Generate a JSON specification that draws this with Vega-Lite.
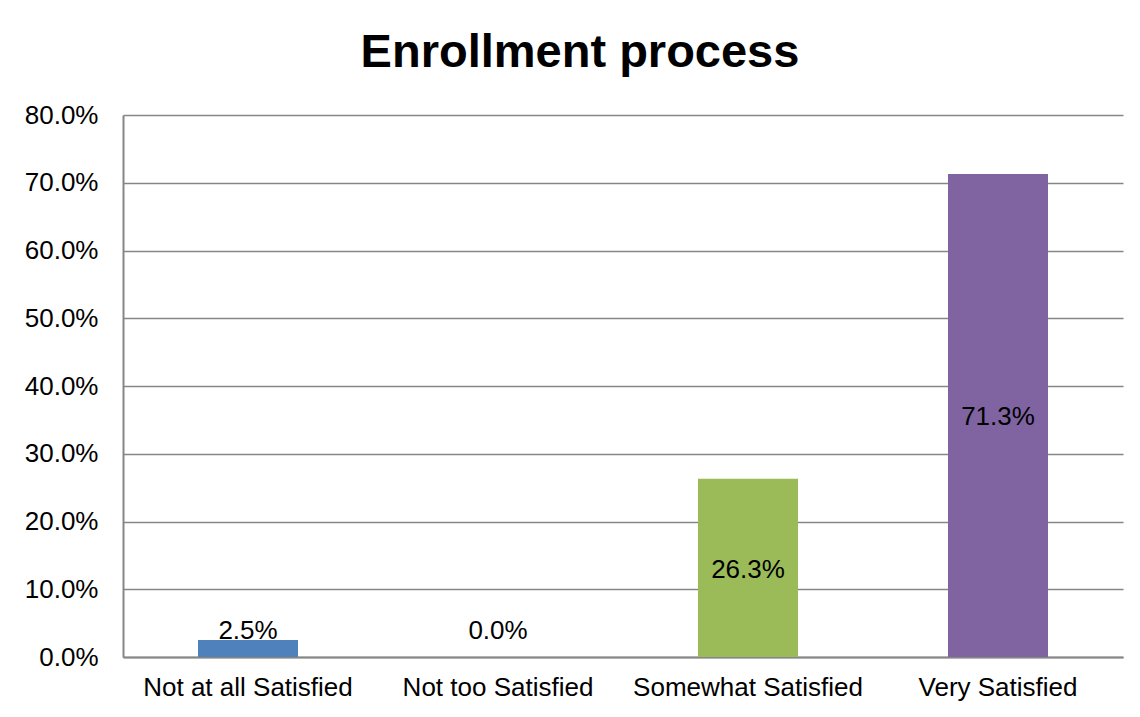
{
  "$schema": "https://vega.github.io/schema/vega-lite/v6.json",
  "width": 1000,
  "height": 542,
  "autosize": {"type": "none"},
  "padding": {"left": 123, "top": 115, "right": 17, "bottom": 60},
  "background": "white",
  "title": {
    "text": "Enrollment process",
    "font": "Liberation Sans",
    "fontSize": 47,
    "fontWeight": "bold",
    "color": "#000000",
    "anchor": "middle",
    "frame": "group",
    "dx": -43,
    "dy": 47,
    "baseline": "alphabetic",
    "offset": 35
  },
  "data": {
    "values": [
      {"category": "Not at all Satisfied", "value": 2.5},
      {"category": "Not too Satisfied", "value": 0.0},
      {"category": "Somewhat Satisfied", "value": 26.3},
      {"category": "Very Satisfied", "value": 71.3}
    ]
  },
  "config": {
    "view": {"stroke": null},
    "font": "Liberation Sans"
  },
  "encoding": {
    "x": {
      "field": "category",
      "type": "nominal",
      "sort": null,
      "scale": {"paddingInner": 0.6, "paddingOuter": 0.3},
      "axis": {
        "title": null,
        "labelAngle": 0,
        "labelFont": "Liberation Sans",
        "labelFontSize": 26,
        "labelLimit": 0,
        "labelColor": "#000000",
        "labelPadding": 17,
        "ticks": false,
        "tickSize": 0,
        "domainColor": "#868686",
        "domainWidth": 2,
        "grid": false
      }
    }
  },
  "layer": [
    {
      "mark": {"type": "bar"},
      "encoding": {
        "y": {
          "field": "value",
          "type": "quantitative",
          "scale": {"domain": [0, 80], "nice": false},
          "axis": {
            "title": null,
            "values": [0, 10, 20, 30, 40, 50, 60, 70, 80],
            "labelExpr": "format(datum.value, '.1f') + '%'",
            "labelFont": "Liberation Sans",
            "labelFontSize": 26,
            "labelColor": "#000000",
            "labelPadding": 25,
            "ticks": false,
            "tickSize": 0,
            "domainColor": "#868686",
            "domainWidth": 2,
            "grid": true,
            "gridColor": "#868686",
            "gridWidth": 1.5
          }
        },
        "color": {
          "field": "category",
          "type": "nominal",
          "sort": null,
          "scale": {
            "domain": ["Not at all Satisfied", "Not too Satisfied", "Somewhat Satisfied", "Very Satisfied"],
            "range": ["#4F81BD", "#C0504D", "#9BBB59", "#8064A2"]
          },
          "legend": null
        }
      }
    },
    {
      "transform": [
        {"calculate": "max(datum.value / 2, 4.2)", "as": "labelPos"},
        {"calculate": "format(datum.value, '.1f') + '%'", "as": "labelText"}
      ],
      "mark": {
        "type": "text",
        "font": "Liberation Sans",
        "fontSize": 26,
        "color": "#000000",
        "baseline": "middle",
        "align": "center",
        "dy": 2
      },
      "encoding": {
        "y": {"field": "labelPos", "type": "quantitative"},
        "text": {"field": "labelText", "type": "nominal"}
      }
    }
  ]
}
